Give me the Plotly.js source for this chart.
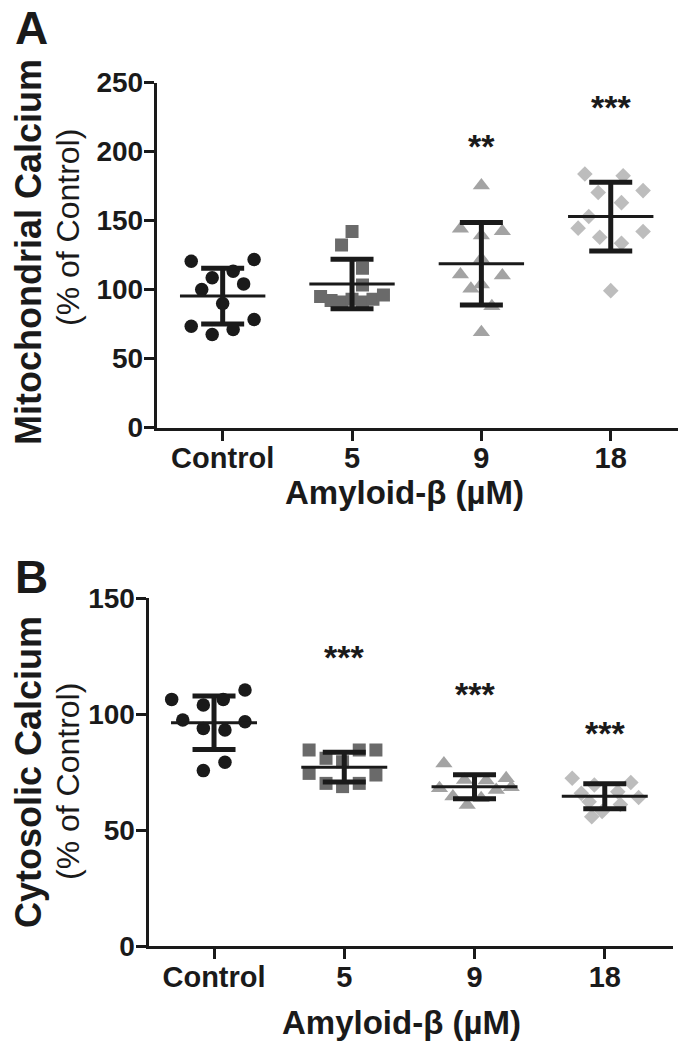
<!DOCTYPE html>
<html><head><meta charset="utf-8">
<script src="https://cdn.plot.ly/plotly-3.0.1.min.js"></script>
<style>html,body{margin:0;padding:0;background:#fff}#chart{width:684px;height:1050px}</style>
</head><body><div id="chart"></div>
<script>
// ---------- data ----------
const categories = ['Control', '5', '9', '18'];
const xTitle = 'Amyloid-β (µM)';

// Panel A: mitochondrial calcium (% of control)
const mitoControl = [120.5, 121.7, 108.5, 113.3, 100, 104.1, 89.9, 73.4, 67.4, 71, 78.3];
const mito5 = [142, 132.3, 115.4, 103.3, 95, 92, 91, 93, 91, 93, 96];
const mito9 = [175.4, 144, 142.3, 139.1, 122.2, 110.9, 110.1, 100.5, 103.6, 87.9, 69.1];
const mito18 = [183.8, 182.4, 170.3, 171.7, 163, 152.9, 144.5, 142.1, 137.9, 133.6, 99.2];
const mitoSig = ['', '', '**', '***'];
const mitoSigY = [null, null, 208.5, 236.8];

// Panel B: cytosolic calcium (% of control)
const cytoControl = [106.3, 103.9, 106.3, 110.3, 97.4, 93.8, 93.1, 96.7, 79.2, 75.6];
const cyto5 = [84.5, 84.5, 84.5, 80.9, 79.4, 74.4, 73.7, 70.1, 68.7, 70.1];
const cyto9 = [78.7, 72.3, 71.6, 71.3, 68, 67.2, 64.4, 63.7, 60.8, 68.4];
const cyto18 = [72.3, 70.5, 69.4, 66.5, 65.8, 64, 62.2, 61, 58, 55.7];
const cytoSig = ['', '***', '***', '***'];
const cytoSigY = [null, 127, 111.2, 94.4];

// horizontal scatter (swarm) offsets of each point, in category units
const mitoControlDx = [-0.243, 0.243, -0.081, 0.081, -0.162, 0.162, 0, -0.243, -0.081, 0.081, 0.243];
const mito5Dx = [0, -0.081, 0.081, 0.081, -0.243, -0.162, -0.081, 0, 0.081, 0.162, 0.243];
const mito9Dx = [0, -0.162, 0.162, 0, 0, -0.162, 0.162, -0.081, 0, 0.081, 0];
const mito18Dx = [-0.2, 0.096, -0.097, 0.25, 0.083, -0.17, -0.252, 0.25, -0.085, 0.083, 0];
const cytoControlDx = [-0.325, -0.082, 0.071, 0.238, -0.24, -0.082, 0.084, 0.238, 0.084, -0.082];
const cyto5Dx = [-0.27, 0.115, 0.243, -0.14, -0.013, -0.27, 0.243, -0.14, -0.013, 0.115];
const cyto9Dx = [-0.235, 0.243, -0.077, 0.09, -0.269, 0.167, -0.166, 0.051, -0.056, 0.282];
const cyto18Dx = [-0.25, 0.2, -0.08, 0.1, -0.18, 0.26, -0.12, 0.12, -0.02, -0.1];

// ---------- style ----------
const W = 684, H = 1050;
const INK = '#1a1a1a';
const FONT = 'Liberation Sans, Arial, Helvetica, sans-serif';
const symbols = ['circle', 'square', 'triangle-up', 'diamond'];
const colors = ['#1a1a1a', '#6a6a6a', '#a3a3a3', '#bdbdbd'];
const sizes = [13.5, 13, 15, 12];

const mean = a => a.reduce((s, v) => s + v, 0) / a.length;
const sd = a => { const m = mean(a); return Math.sqrt(a.reduce((s, v) => s + (v - m) ** 2, 0) / (a.length - 1)); };

const traces = [];
function addGroup(xa, ya, ci, vals, dx) {
  traces.push({
    type: 'scatter', mode: 'markers', xaxis: xa, yaxis: ya,
    x: vals.map((v, i) => ci + dx[i]), y: vals,
    marker: {symbol: symbols[ci], color: colors[ci], size: sizes[ci], line: {width: 0}},
    hoverinfo: 'skip', showlegend: false
  });
}
function addStats(xa, ya, ci, vals) {
  traces.push({
    type: 'scatter', mode: 'markers', xaxis: xa, yaxis: ya,
    x: [ci], y: [mean(vals)],
    marker: {size: 1, opacity: 0},
    error_y: {type: 'data', array: [sd(vals)], symmetric: true, thickness: 5, width: 21.5, color: INK},
    error_x: {type: 'constant', value: 0.33, thickness: 3, width: 0, color: INK},
    hoverinfo: 'skip', showlegend: false
  });
}
const groupsA = [[mitoControl, mitoControlDx], [mito5, mito5Dx], [mito9, mito9Dx], [mito18, mito18Dx]];
const groupsB = [[cytoControl, cytoControlDx], [cyto5, cyto5Dx], [cyto9, cyto9Dx], [cyto18, cyto18Dx]];
groupsA.forEach((g, i) => addGroup('x', 'y', i, g[0], g[1]));
groupsB.forEach((g, i) => addGroup('x2', 'y2', i, g[0], g[1]));
groupsA.forEach((g, i) => addStats('x', 'y', i, g[0]));
groupsB.forEach((g, i) => addStats('x2', 'y2', i, g[0]));

function xAxis(d0, d1, r0, r1, anchor) {
  return {
    domain: [d0 / W, d1 / W], range: [r0, r1], anchor: anchor,
    tickvals: categories.map((c, i) => i), ticktext: categories,
    showline: true, linewidth: 3, linecolor: INK, mirror: false,
    ticks: 'outside', ticklen: 10, tickwidth: 3, tickcolor: INK,
    ticklabelstandoff: -7,
    showgrid: false, zeroline: false,
    tickfont: {family: FONT, size: 29, color: INK, weight: 'bold'}
  };
}
function yAxis(top, bottom, rmax, dtick, anchor) {
  return {
    domain: [(H - bottom) / H, (H - top) / H], range: [0, rmax], anchor: anchor,
    tick0: 0, dtick: dtick,
    showline: true, linewidth: 3, linecolor: INK,
    ticks: 'outside', ticklen: 10, tickwidth: 3, tickcolor: INK,
    ticklabelstandoff: -5,
    showgrid: false, zeroline: false,
    tickfont: {family: FONT, size: 28, color: INK, weight: 'bold'}
  };
}

const ann = [];
function pann(text, x, y, size, bold, extra) {
  ann.push(Object.assign({
    text: text, xref: 'paper', yref: 'paper', x: x / W, y: 1 - y / H,
    xanchor: 'center', yanchor: 'middle', showarrow: false,
    font: {family: FONT, size: size, color: INK, weight: bold ? 'bold' : 'normal'}
  }, extra || {}));
}
pann('A', 13, 0, 46, true, {xanchor: 'left', yanchor: 'top'});
pann('B', 13, 549, 46, true, {xanchor: 'left', yanchor: 'top'});
pann('Mitochondrial Calcium', 28, 252, 36, true, {textangle: -90});
pann('(% of Control)', 68, 228, 32, false, {textangle: -90});
pann('Cytosolic Calcium', 28, 772, 36, true, {textangle: -90});
pann('(% of Control)', 68, 782, 32, false, {textangle: -90});
pann(xTitle, 405, 493, 33, true);
pann(xTitle, 401, 1022, 33, true);

function sig(labels, ys, xr, yr) {
  labels.forEach((t, i) => {
    if (!t) return;
    ann.push({text: t, xref: xr, yref: yr, x: i, y: ys[i], xanchor: 'center', yanchor: 'middle',
      yshift: -6, showarrow: false, font: {family: FONT, size: 34, color: INK, weight: 'bold'}});
  });
}
sig(mitoSig, mitoSigY, 'x', 'y');
sig(cytoSig, cytoSigY, 'x2', 'y2');

const layout = {
  width: W, height: H, autosize: false,
  margin: {l: 0, r: 0, t: 0, b: 0, pad: 0},
  paper_bgcolor: '#ffffff', plot_bgcolor: '#ffffff',
  showlegend: false,
  xaxis: xAxis(156.7, 678, -0.51, 3.52, 'y'),
  yaxis: yAxis(82.6, 427.5, 250, 50, 'x'),
  xaxis2: xAxis(148.5, 672.5, -0.503, 3.52, 'y2'),
  yaxis2: yAxis(598, 946, 150, 50, 'x2'),
  annotations: ann
};
Plotly.newPlot('chart', traces, layout, {staticPlot: true, displayModeBar: false});
</script>
</body></html>
